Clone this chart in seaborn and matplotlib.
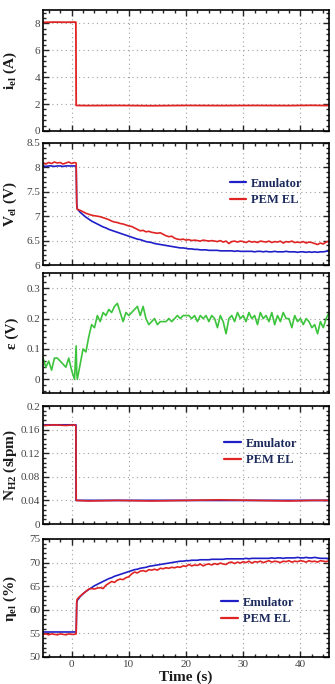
import matplotlib
matplotlib.use("Agg")
import matplotlib.pyplot as plt
from matplotlib.ticker import MultipleLocator, AutoMinorLocator, FuncFormatter
import seaborn as sns

# sampling instants (s)
time = [
    -5.0, -4.5, -4.0, -3.5, -3.0, -2.5, -2.0, -1.5, -1.0, -0.5,
    0.0, 0.5, 0.8, 0.9, 1.0, 1.5, 2.0, 2.5, 3.0, 3.5,
    4.0, 4.5, 5.0, 5.5, 6.0, 6.5, 7.0, 7.5, 8.0, 8.5,
    9.0, 9.5, 10.0, 10.5, 11.0, 11.5, 12.0, 12.5, 13.0, 13.5,
    14.0, 14.5, 15.0, 15.5, 16.0, 16.5, 17.0, 17.5, 18.0, 18.5,
    19.0, 19.5, 20.0, 20.5, 21.0, 21.5, 22.0, 22.5, 23.0, 23.5,
    24.0, 24.5, 25.0, 25.5, 26.0, 26.5, 27.0, 27.5, 28.0, 28.5,
    29.0, 29.5, 30.0, 30.5, 31.0, 31.5, 32.0, 32.5, 33.0, 33.5,
    34.0, 34.5, 35.0, 35.5, 36.0, 36.5, 37.0, 37.5, 38.0, 38.5,
    39.0, 39.5, 40.0, 40.5, 41.0, 41.5, 42.0, 42.5, 43.0, 43.5,
    44.0, 44.5, 45.0,
]

# electrolyser current (A)
time_step = [-5.0, -3.0, -1.0, 0.5, 0.75, 0.8, 3.0, 8.0, 14.0, 20.0, 26.0, 32.0, 38.0, 42.0, 45.0]
current = [8.08, 8.1, 8.09, 8.1, 8.1, 1.9, 1.89, 1.9, 1.88, 1.9, 1.89, 1.9, 1.89, 1.91, 1.89]

# cell voltage (V)
volt_emulator = [
    8.03, 8.02, 8.03, 8.03, 8.02, 8.03, 8.03, 8.02, 8.03, 8.03,
    8.03, 8.03, 8.03, 7.25, 7.15, 7.08, 7.03, 6.98, 6.94, 6.90,
    6.87, 6.84, 6.81, 6.78, 6.76, 6.73, 6.71, 6.69, 6.67, 6.65,
    6.63, 6.61, 6.59, 6.57, 6.55, 6.53, 6.52, 6.50, 6.48, 6.47,
    6.46, 6.44, 6.43, 6.42, 6.41, 6.40, 6.39, 6.38, 6.37, 6.36,
    6.35, 6.35, 6.34, 6.33, 6.33, 6.32, 6.32, 6.31, 6.31, 6.31,
    6.30, 6.30, 6.30, 6.30, 6.29, 6.29, 6.29, 6.29, 6.29, 6.28,
    6.29, 6.28, 6.28, 6.28, 6.28, 6.28, 6.27, 6.28, 6.28, 6.27,
    6.28, 6.27, 6.27, 6.28, 6.27, 6.27, 6.27, 6.28, 6.27, 6.27,
    6.27, 6.26, 6.27, 6.27, 6.26, 6.27, 6.26, 6.27, 6.26, 6.27,
    6.27, 6.28, 6.29,
]
volt_pem = [
    8.09, 8.07, 8.10, 8.08, 8.11, 8.09, 8.10, 8.07, 8.09, 8.11,
    8.08, 8.10, 8.09, 7.20, 7.14, 7.12, 7.09, 7.06, 7.04, 7.02,
    7.01, 7.00, 6.99, 6.97, 6.95, 6.93, 6.90, 6.88, 6.87, 6.85,
    6.84, 6.82, 6.80, 6.79, 6.76, 6.73, 6.70, 6.71, 6.68, 6.69,
    6.67, 6.66, 6.65, 6.66, 6.63, 6.60, 6.58, 6.59, 6.55, 6.53,
    6.52, 6.53, 6.51, 6.52, 6.50, 6.51, 6.50, 6.49, 6.51, 6.50,
    6.49, 6.50, 6.49, 6.48, 6.50, 6.47, 6.49, 6.44, 6.48, 6.49,
    6.47, 6.49, 6.48, 6.46, 6.49, 6.47, 6.48, 6.46, 6.49, 6.48,
    6.47, 6.49, 6.46, 6.48, 6.47, 6.49, 6.45, 6.48, 6.47, 6.49,
    6.46, 6.47, 6.46, 6.48, 6.45, 6.47, 6.46, 6.44, 6.42, 6.45,
    6.43, 6.47, 6.49,
]

# voltage error (V)
error = [
    0.07, 0.04, 0.06, 0.03, 0.07, 0.07, 0.06, 0.05, 0.04, 0.07,
    0.03, 0.00, 0.11, 0.02, 0.00, 0.05, 0.10, 0.09, 0.14, 0.18,
    0.17, 0.21, 0.19, 0.22, 0.21, 0.23, 0.22, 0.24, 0.25, 0.22,
    0.19, 0.22, 0.21, 0.22, 0.23, 0.24, 0.21, 0.24, 0.20, 0.18,
    0.19, 0.20, 0.18, 0.19, 0.19, 0.19, 0.20, 0.19, 0.20, 0.21,
    0.20, 0.21, 0.21, 0.21, 0.20, 0.21, 0.19, 0.21, 0.20, 0.21,
    0.19, 0.21, 0.20, 0.17, 0.21, 0.19, 0.15, 0.20, 0.21, 0.19,
    0.22, 0.20, 0.21, 0.19, 0.22, 0.20, 0.21, 0.18, 0.22, 0.20,
    0.21, 0.19, 0.22, 0.18, 0.21, 0.19, 0.22, 0.20, 0.20, 0.17,
    0.21, 0.19, 0.20, 0.18, 0.20, 0.19, 0.17, 0.18, 0.15, 0.19,
    0.17, 0.20, 0.22,
]

# hydrogen flow (slpm)
flow_emulator = [0.168, 0.168, 0.168, 0.168, 0.168, 0.040, 0.040, 0.040, 0.040, 0.040, 0.040, 0.040, 0.040, 0.040, 0.040]
flow_pem = [0.167, 0.168, 0.167, 0.168, 0.167, 0.040, 0.039, 0.040, 0.039, 0.040, 0.041, 0.040, 0.039, 0.040, 0.040]

# efficiency (%)
eff_emulator = [
    55.3, 55.3, 55.3, 55.3, 55.3, 55.3, 55.3, 55.3, 55.3, 55.3,
    55.3, 55.3, 55.3, 61.5, 62.0, 62.8, 63.4, 63.9, 64.3, 64.7,
    65.1, 65.4, 65.7, 66.0, 66.3, 66.6, 66.8, 67.1, 67.3, 67.5,
    67.7, 67.9, 68.1, 68.3, 68.5, 68.6, 68.8, 68.9, 69.0, 69.2,
    69.3, 69.4, 69.5, 69.6, 69.7, 69.8, 69.9, 70.0, 70.1, 70.2,
    70.3, 70.3, 70.4, 70.4, 70.5, 70.5, 70.5, 70.6, 70.6, 70.6,
    70.6, 70.7, 70.7, 70.7, 70.7, 70.7, 70.8, 70.8, 70.8, 70.8,
    70.8, 70.8, 70.8, 70.9, 70.8, 70.9, 70.9, 70.9, 70.9, 70.9,
    70.9, 70.9, 71.0, 70.9, 71.0, 71.0, 70.9, 71.0, 71.0, 71.0,
    71.0, 71.1, 71.0, 71.0, 71.1, 71.0, 71.0, 71.1, 71.0, 70.9,
    70.9, 70.9, 70.8,
]
eff_pem = [
    54.8, 54.9, 54.7, 54.9, 54.8, 54.7, 54.9, 54.8, 54.7, 54.9,
    54.8, 54.8, 54.9, 61.8, 62.3, 62.9, 63.4, 63.9, 64.4, 64.5,
    64.4, 64.6, 64.7, 64.5, 65.2, 65.6, 66.0, 65.8, 66.3, 66.5,
    66.4, 66.8, 67.0, 67.6, 68.0, 67.8, 68.2, 68.3, 68.1, 68.5,
    68.4, 68.6, 68.4, 68.8, 68.7, 68.9, 68.8, 69.0, 68.9, 69.1,
    69.0, 69.3, 69.2, 69.6, 69.3, 69.5, 69.4, 69.7, 69.3, 69.6,
    69.7, 69.5, 69.8, 69.6, 69.9, 69.7, 69.6, 70.0, 70.1, 69.8,
    70.1, 69.9, 70.2, 70.0, 70.3, 69.9, 70.2, 70.1, 70.3, 70.0,
    70.2, 70.4, 70.1, 70.3, 70.2, 70.0, 70.3, 70.2, 70.4, 70.1,
    70.3, 70.2, 70.4, 70.3, 70.1, 70.4, 70.2, 70.3, 70.1, 70.4,
    70.3, 70.2, 70.4,
]

sns.set_style("ticks")
plt.rcParams['font.family'] = ['Liberation Serif', 'DejaVu Serif']
plt.rcParams['mathtext.fontset'] = 'custom'
plt.rcParams['mathtext.rm'] = 'Liberation Serif:bold'
plt.rcParams['mathtext.it'] = 'Liberation Serif:bold'
plt.rcParams['mathtext.bf'] = 'Liberation Serif:bold'

BLUE = '#1f1fc8'
RED = '#e02424'
GREEN = '#3cc43c'
NAVY = '#1c2a5c'

fig = plt.figure(figsize=(3.35, 6.84), dpi=100)
W, H = 335.0, 684.0
left, right = 43, 329
panels = [(10, 131), (143, 265), (273, 393), (406, 524), (539, 657)]
axes = []
for top, bottom in panels:
    ax = fig.add_axes([left / W, 1 - bottom / H, (right - left) / W, (bottom - top) / H])
    axes.append(ax)

ax1, ax2, ax3, ax4, ax5 = axes

sns.lineplot(x=time_step, y=current, ax=ax1, color=RED, linewidth=1.3, estimator=None)

sns.lineplot(x=time, y=volt_emulator, ax=ax2, color=BLUE, linewidth=1.2, estimator=None, label='Emulator')
sns.lineplot(x=time, y=volt_pem, ax=ax2, color=RED, linewidth=1.2, estimator=None, label='PEM EL')

sns.lineplot(x=time, y=error, ax=ax3, color=GREEN, linewidth=1.2, estimator=None)

sns.lineplot(x=time_step, y=flow_emulator, ax=ax4, color=BLUE, linewidth=1.3, estimator=None, label='Emulator')
sns.lineplot(x=time_step, y=flow_pem, ax=ax4, color=RED, linewidth=1.2, estimator=None, label='PEM EL')

sns.lineplot(x=time, y=eff_emulator, ax=ax5, color=BLUE, linewidth=1.2, estimator=None, label='Emulator')
sns.lineplot(x=time, y=eff_pem, ax=ax5, color=RED, linewidth=1.2, estimator=None, label='PEM EL')

short_fmt = FuncFormatter(lambda v, pos: '{:g}'.format(round(v, 6)))

settings = [
    (ax1, (0, 9), 2, r'$\mathrm{i_{el}}$ (A)'),
    (ax2, (6, 8.5), 0.5, r'$\mathrm{V_{el}}$ (V)'),
    (ax3, (-0.045, 0.35), 0.1, 'ε (V)'),
    (ax4, (0, 0.2), 0.04, r'$\mathrm{N_{H2}}$ (slpm)'),
    (ax5, (50, 75), 5, r'η$_{\mathrm{el}}$ (%)'),
]
for ax, ylim, step, label in settings:
    ax.set_xlim(-5, 45)
    ax.set_ylim(*ylim)
    ax.xaxis.set_major_locator(MultipleLocator(10))
    ax.yaxis.set_major_locator(MultipleLocator(step))
    ax.xaxis.set_minor_locator(AutoMinorLocator(5))
    ax.yaxis.set_minor_locator(AutoMinorLocator(5))
    ax.yaxis.set_major_formatter(short_fmt)
    ax.xaxis.set_major_formatter(short_fmt)
    ax.grid(True, which='major', linestyle=(0, (1, 3)), color='#a0a0a0', linewidth=0.8)
    ax.tick_params(which='both', direction='in', top=True, right=True, width=1.0,
                   labelsize=8, labelcolor='#444444', pad=2)
    ax.tick_params(which='major', length=4)
    ax.tick_params(which='minor', length=2.5)
    for sp in ax.spines.values():
        sp.set_linewidth(1.2)
        sp.set_color('black')
    ax.set_ylabel(label, fontsize=11, fontweight='bold', color='#1a1a1a')
    ax.yaxis.set_label_coords(-0.085, 0.5)
    ax.set_xlabel('')
    if ax is not ax5:
        ax.tick_params(labelbottom=False)

ax5.set_xlabel('Time (s)', fontsize=11, fontweight='bold', color='#1a1a1a', labelpad=1)

for ax, anchor in [(ax2, (0.93, 0.6)), (ax4, (0.91, 0.61)), (ax5, (0.9, 0.39))]:
    leg = ax.legend(loc='center right', bbox_to_anchor=anchor, frameon=False,
                    prop={'family': 'Liberation Serif', 'weight': 'bold', 'size': 9},
                    handlelength=1.3, handletextpad=0.4, labelspacing=0.35, borderpad=0)
    for txt in leg.get_texts():
        txt.set_color(NAVY)
    for ln in leg.get_lines():
        ln.set_linewidth(1.6)

fig.savefig('out.png', dpi=100)
